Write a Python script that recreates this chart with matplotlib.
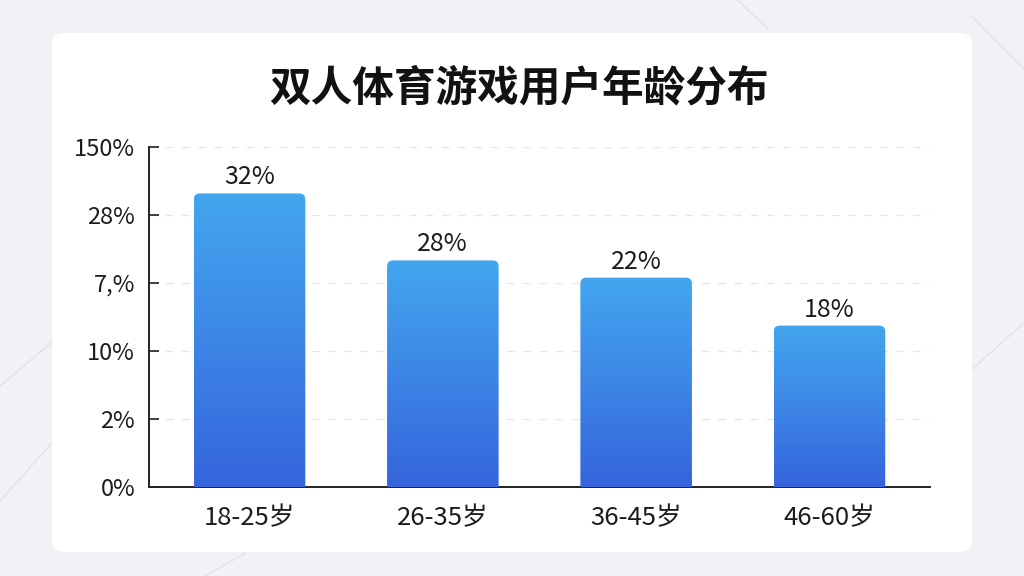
import numpy as np
import matplotlib
matplotlib.use("Agg")
import matplotlib.pyplot as plt
from matplotlib.patches import FancyBboxPatch
from matplotlib.colors import LinearSegmentedColormap

plt.rcParams['font.family'] = ['Noto Sans CJK SC', 'DejaVu Sans']

# 数据
title = "双人体育游戏用户年龄分布"
categories = ["18-25岁", "26-35岁", "36-45岁", "46-60岁"]
bar_heights = [32.4, 25.0, 23.1, 17.8]      # 按图中柱高读取
value_labels = ["32%", "28%", "22%", "18%"]
tick_values = [0, 7.5, 15, 22.5, 30, 37.5]
tick_labels = ["0%", "2%", "10%", "7,%", "28%", "150%"]

text_color = "#1c1c1c"
grad = LinearSegmentedColormap.from_list("bar", ["#3564dc", "#3d86e6", "#43a6ee"])

fig = plt.figure(figsize=(10.24, 5.76), dpi=100)
fig.patch.set_facecolor("#f1f2f5")

# 背景装饰线
for x0, y0, x1, y1 in [(0.0, 0.33, 0.06, 0.42), (0.0, 0.13, 0.05, 0.23),
                       (0.95, 0.97, 1.0, 0.88), (0.95, 0.36, 1.0, 0.44),
                       (0.72, 1.0, 0.75, 0.95), (0.2, 0.0, 0.24, 0.04)]:
    fig.add_artist(plt.Line2D([x0, x1], [y0, y1], color="#e0e2e6", lw=1.0,
                              transform=fig.transFigure, zorder=0))

# 白色卡片
card = FancyBboxPatch((52 / 1024, 1 - 552 / 576), 920 / 1024, 519 / 576,
                      boxstyle="round,pad=0,rounding_size=0.015",
                      transform=fig.transFigure, facecolor="white",
                      edgecolor="none", zorder=1)
fig.add_artist(card)

ax = fig.add_axes([149 / 1024, 1 - 486.7 / 576, 781 / 1024, 339.4 / 576])
ax.set_facecolor("none")
ax.set_zorder(2)

x = np.arange(len(categories))
width = 0.577
ax.set_xlim(-0.52, len(categories) - 0.48)
ax.set_ylim(0, 37.5)

# 像素换算, 用于圆角
x_per_px = (ax.get_xlim()[1] - ax.get_xlim()[0]) / 781
y_per_px = 37.5 / 339.4
aspect = y_per_px / x_per_px
r = 6 * x_per_px

for xi, h, lab in zip(x, bar_heights, value_labels):
    left = xi - width / 2
    patch = FancyBboxPatch((left, -r * aspect), width, h + r * aspect,
                           boxstyle=f"round,pad=0,rounding_size={r}",
                           mutation_aspect=aspect, facecolor="none",
                           edgecolor="none")
    ax.add_patch(patch)
    img = ax.imshow(np.linspace(0, 1, 256).reshape(-1, 1), cmap=grad,
                    extent=[left, left + width, 0, h], origin="lower",
                    aspect="auto", zorder=3)
    img.set_clip_path(patch)
    ax.text(xi, h + 16 * y_per_px, lab, ha="center", va="center", fontsize=18,
            color=text_color, zorder=4)

ax.set_aspect("auto")
ax.set_xlim(-0.52, len(categories) - 0.48)
ax.set_ylim(0, 37.5)

ax.set_yticks(tick_values)
ax.set_yticklabels(tick_labels)
ax.set_xticks(x)
ax.set_xticklabels(categories)
ax.tick_params(axis="y", direction="in", length=7, width=1.2, colors="#222222",
               labelsize=17, labelcolor=text_color, pad=10)
ax.tick_params(axis="x", length=0, labelsize=18.5, labelcolor=text_color, pad=13)

for yv in tick_values[1:]:
    ax.axhline(yv, color="#e6e6e6", lw=0.9, ls=(0, (6, 7)), zorder=1)

for s in ["top", "right"]:
    ax.spines[s].set_visible(False)
ax.spines["left"].set_linewidth(1.4)
ax.spines["bottom"].set_linewidth(1.4)
ax.spines["left"].set_color("#222222")
ax.spines["bottom"].set_color("#222222")

fig.text(519 / 1024, 1 - 88 / 576, title, ha="center", va="center",
         fontsize=30, fontweight="bold", color="#111111", zorder=5)

fig.savefig("out.png", dpi=100, facecolor=fig.get_facecolor())
